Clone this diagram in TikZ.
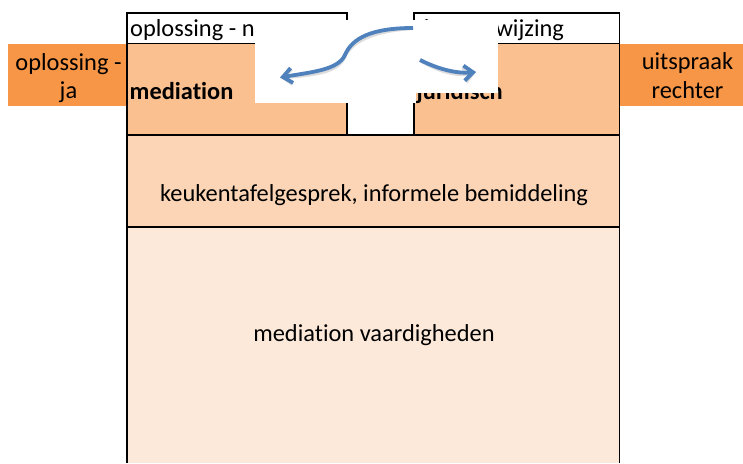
\documentclass[tikz,border=0pt]{standalone}
\usepackage{fontspec}
\setmainfont{Carlito}[Ligatures=NoCommon]
\usetikzlibrary{arrows.meta}
\definecolor{towerc}{HTML}{FAC090}
\definecolor{midc}{HTML}{FBD5B5}
\definecolor{botc}{HTML}{FDE9D9}
\definecolor{sidec}{HTML}{F79646}
\definecolor{arrowc}{HTML}{4F81BD}
\begin{document}
\begin{tikzpicture}[x=1pt,y=-1pt,
  txt/.style={inner sep=0pt, font=\fontsize{24.4}{29.5}\selectfont, text=black},
  btxt/.style={txt, font=\fontsize{24.4}{29.5}\selectfont\bfseries},
  edge/.style={line width=1.8pt, draw=black},
  flow/.style={line width=3.8pt, draw=arrowc, -{Straight Barb[length=9pt,width=15pt]}},
  flowshade/.style={line width=4pt, draw=black!30, opacity=0.45, -{Straight Barb[length=9pt,width=15pt]}},
  cover/.style={fill=white, draw=none}]
\useasboundingbox (0,0) rectangle (743,463);
% fills
\fill[white] (127,13) rectangle (347,43.5);
\fill[white] (414,13) rectangle (619.5,43.5);
\fill[towerc] (127,43.5) rectangle (347,135);
\fill[towerc] (414,43.5) rectangle (619.5,135);
\fill[midc] (127,135) rectangle (619.5,227);
\fill[botc] (127,227) rectangle (619.5,463);
\fill[sidec] (8,43.5) rectangle (127,105.5);
\fill[sidec] (619.5,43.5) rectangle (743,105.5);
% lines
\draw[edge] (127,463) -- (127,13) -- (347,13) -- (347,135);
\draw[edge] (127,43.5) -- (347,43.5);
\draw[edge] (414,135) -- (414,13) -- (619.5,13) -- (619.5,463);
\draw[edge] (414,43.5) -- (619.5,43.5);
\draw[edge] (127,135) -- (619.5,135);
\draw[edge] (127,227) -- (619.5,227);
% texts
\node[txt, anchor=base west] (hl) at (130,36.5) {oplossing - nee};
\node[btxt, anchor=base west] (ml) at (129.5,99) {mediation};
\node[txt, anchor=base west] (hr) at (416.5,36.5) {doorverwijzing};
\node[btxt, anchor=base west] (mr) at (416.5,99) {juridisch};
\node[txt, anchor=base] (ljaA) at (68.5,70) {oplossing -};
\node[txt, anchor=base] (ljaB) at (68.5,98.5) {ja};
\node[txt, anchor=base] (ruA) at (687.5,69.5) {uitspraak};
\node[txt, anchor=base] (ruB) at (687.5,98.5) {rechter};
\node[txt, anchor=base] (mid) at (374,201) {keukentafelgesprek, informele bemiddeling};
\node[txt, anchor=base] (bot) at (374,341.7) {mediation vaardigheden};
% white overlay
\fill[cover] (255,20) rectangle (416,103);
\fill[cover] (416,20) rectangle (498,93);
% arrows
\coordinate (a1s) at (413,28);
\coordinate (a1m) at (345,55);
\coordinate (a1e) at (280,77.5);
\coordinate (a2s) at (420,60);
\coordinate (a2e) at (476,72);
\begin{scope}[shift={(1.5,2.5)}]
\draw[flowshade] (a1s) .. controls (372,28) and (352,38) .. (a1m) .. controls (338,70) and (312,72) .. (a1e);
\draw[flowshade] (a2s) .. controls (436,68) and (455,74) .. (a2e);
\end{scope}
\draw[flow] (a1s) .. controls (372,28) and (352,38) .. (a1m) .. controls (338,70) and (312,72) .. (a1e);
\draw[flow] (a2s) .. controls (436,68) and (455,74) .. (a2e);
\end{tikzpicture}
\end{document}
